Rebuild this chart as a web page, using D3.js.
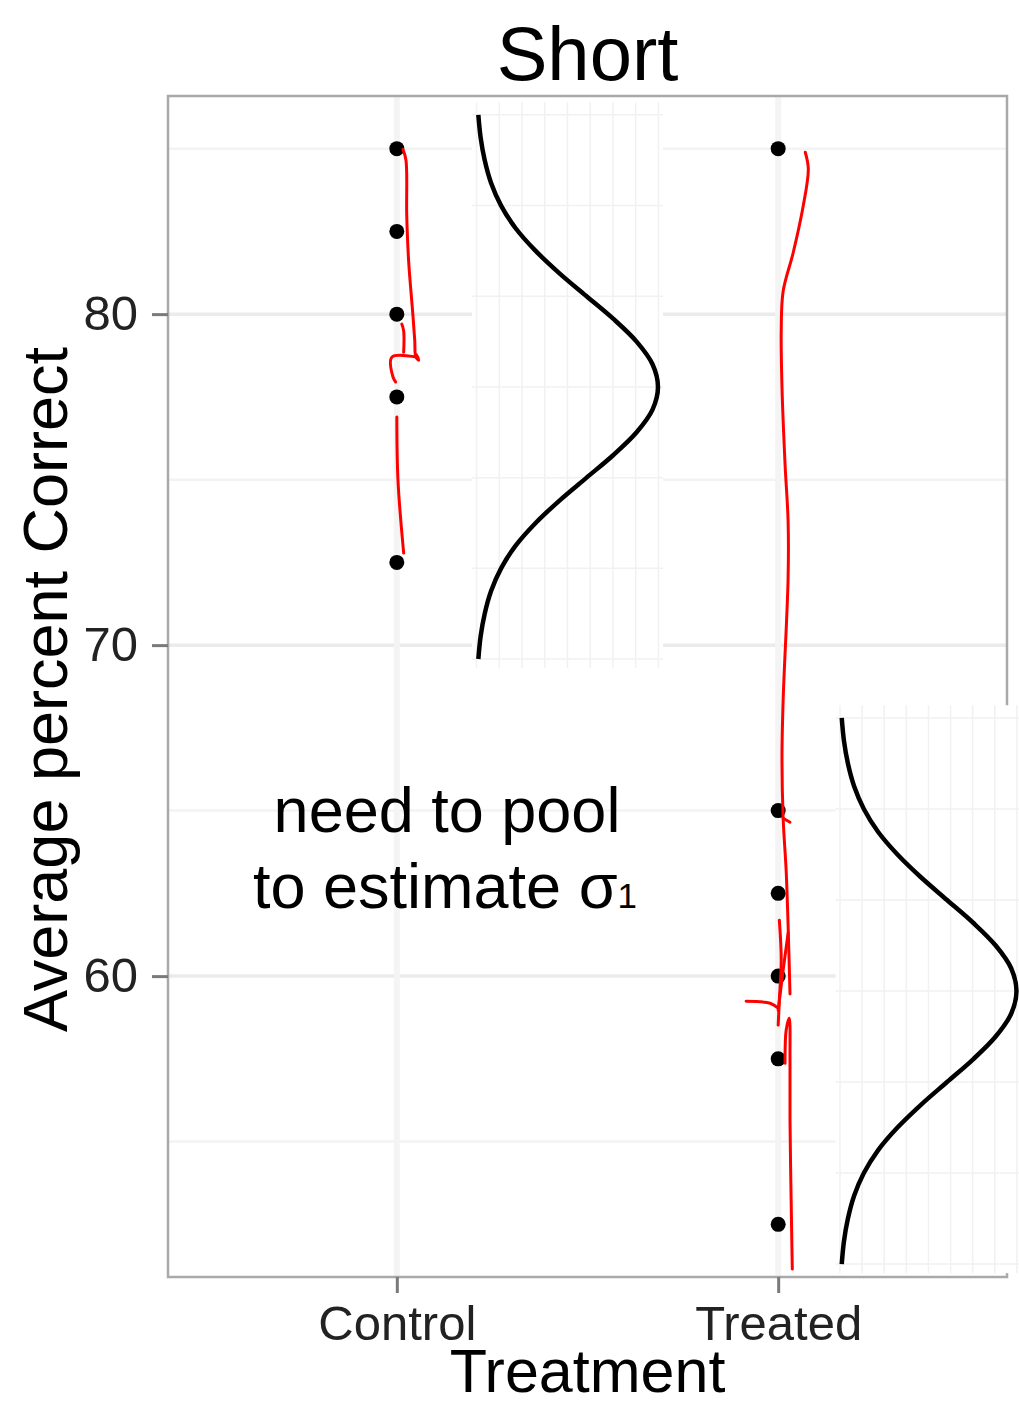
<!DOCTYPE html>
<html>
<head>
<meta charset="utf-8">
<script src="https://cdn.jsdelivr.net/npm/d3@7"></script>
<style>
    body { margin: 0; background: #fff; }
    svg text { font-family: "Liberation Sans", Arial, sans-serif; }
</style>
</head>
<body>
<div id="chart"></div>
<script>

// ---- data ----
var groups = ["Control", "Treated"];
var controlScores = [85, 82.5, 80, 77.5, 72.5];
var treatedScores = [85, 65, 62.5, 60, 57.5, 52.5];
var yTicks = [60, 70, 80];
var yMinorTicks = [55, 65, 75, 85];

// normal curve shape (z, density)
var curveZ = [-3, -2.75, -2.5, -2.25, -2, -1.75, -1.5, -1.25, -1, -0.75, -0.5, -0.25, 0,
              0.25, 0.5, 0.75, 1, 1.25, 1.5, 1.75, 2, 2.25, 2.5, 2.75, 3];
var curveDensity = [0.004, 0.009, 0.018, 0.032, 0.054, 0.086, 0.130, 0.183, 0.242, 0.301, 0.352, 0.387, 0.399,
                    0.387, 0.352, 0.301, 0.242, 0.183, 0.130, 0.086, 0.054, 0.032, 0.018, 0.009, 0.004];
var insetZTicks = [-3, -2, -1, 0, 1, 2, 3];
var insetDensityTicks = [0, 0.05, 0.1, 0.15, 0.2, 0.25, 0.3, 0.35, 0.4];

// red pen strokes, [group position, score]
var penStrokes = [
    [[1.016, 84.98], [1.024, 84.65], [1.026, 82.99], [1.031, 81.60], [1.042, 80.00], [1.047, 79.21], [1.050, 78.70], [1.058, 78.61], [1.052, 78.76]],
    [[1.013, 79.70], [1.018, 79.49], [1.018, 78.85]],
    [[1.055, 78.70], [0.987, 78.70], [0.990, 78.10], [0.997, 77.95]],
    [[1.000, 76.89], [1.003, 74.98], [1.018, 72.78]],
    [[2.071, 84.89], [2.079, 84.38], [2.065, 83.23], [2.039, 81.84], [2.013, 80.69], [2.008, 79.52], [2.010, 77.79], [2.018, 75.47],
     [2.026, 73.75], [2.026, 72.02], [2.013, 68.34], [2.010, 66.62], [2.013, 64.77], [2.021, 63.17], [2.026, 61.54], [2.031, 59.46]],
    [[2.013, 64.77], [2.031, 64.65]],
    [[2.003, 61.69], [2.008, 60.48], [2.003, 59.27], [2.000, 58.52]],
    [[2.026, 61.30], [2.013, 60.18], [2.000, 58.97]],
    [[1.916, 59.24], [1.979, 59.18], [2.000, 59.03]],
    [[2.018, 57.37], [2.021, 58.37], [2.029, 58.73], [2.031, 57.46], [2.031, 55.65], [2.034, 53.23], [2.037, 51.15]]
];

// where the two pasted curve plots sit (main chart units)
var insets = [
    {x0: 1.209, x1: 1.686, mean: 77.8, unit: 2.74},
    {x0: 2.162, x1: 2.626, mean: 59.55, unit: 2.75}
];


const width = 1019,
    height = 1407,
    panel = {left: 168, right: 1007, top: 96, bottom: 1277};

const svg = d3.select("#chart")
    .append("svg")
    .attr("width", width)
    .attr("height", height);

var xScale = d3.scaleLinear()
    .domain([0.4, 2.6])
    .range([panel.left, panel.right]);

var yScale = d3.scaleLinear()
    .domain([50.91, 86.59])
    .range([panel.bottom, panel.top]);

// panel + grid
svg.append("rect")
    .attr("x", panel.left).attr("y", panel.top)
    .attr("width", panel.right - panel.left)
    .attr("height", panel.bottom - panel.top)
    .style("fill", "#fff");

svg.selectAll("line.minor")
    .data(yMinorTicks)
    .enter()
    .append("line")
    .attr("class", "minor")
    .attr("x1", panel.left).attr("x2", panel.right)
    .attr("y1", function (d) { return yScale(d); })
    .attr("y2", function (d) { return yScale(d); })
    .style("stroke", "#f3f3f3")
    .style("stroke-width", 2.5);

svg.selectAll("line.major")
    .data(yTicks)
    .enter()
    .append("line")
    .attr("class", "major")
    .attr("x1", panel.left).attr("x2", panel.right)
    .attr("y1", function (d) { return yScale(d); })
    .attr("y2", function (d) { return yScale(d); })
    .style("stroke", "#ebebeb")
    .style("stroke-width", 3.5);

svg.selectAll("line.vgrid")
    .data([1, 2])
    .enter()
    .append("line")
    .attr("class", "vgrid")
    .attr("x1", function (d) { return xScale(d); })
    .attr("x2", function (d) { return xScale(d); })
    .attr("y1", panel.top).attr("y2", panel.bottom)
    .style("stroke", "#f4f4f4")
    .style("stroke-width", 6);

// border
svg.append("rect")
    .attr("x", panel.left).attr("y", panel.top)
    .attr("width", panel.right - panel.left)
    .attr("height", panel.bottom - panel.top)
    .style("fill", "none")
    .style("stroke", "#a9a9a9")
    .style("stroke-width", 2.5);

// axes
svg.append("g")
    .attr("class", "y-axis")
    .attr("transform", "translate(" + panel.left + ",0)")
    .call(d3.axisLeft(yScale).tickValues(yTicks).tickSize(16).tickPadding(14));

svg.append("g")
    .attr("class", "x-axis")
    .attr("transform", "translate(0," + panel.bottom + ")")
    .call(d3.axisBottom(xScale)
        .tickValues([1, 2])
        .tickSize(16)
        .tickPadding(12)
        .tickFormat(function (d) { return groups[d - 1]; }));

svg.selectAll(".y-axis .domain, .x-axis .domain").remove();
svg.selectAll(".y-axis .tick line, .x-axis .tick line")
    .style("stroke", "#7a7a7a")
    .style("stroke-width", 3);
svg.selectAll(".y-axis .tick text, .x-axis .tick text")
    .style("font-family", "'Liberation Sans', Arial, sans-serif")
    .style("font-size", "49px")
    .style("fill", "#222");

// points
var points = controlScores.map(function (d) { return {g: 1, v: d}; })
    .concat(treatedScores.map(function (d) { return {g: 2, v: d}; }));

svg.selectAll("circle.pt")
    .data(points)
    .enter()
    .append("circle")
    .attr("class", "pt")
    .attr("cx", function (d) { return xScale(d.g); })
    .attr("cy", function (d) { return yScale(d.v); })
    .attr("r", 7.5)
    .style("fill", "#000");

// the two pasted normal curve plots
var curvePoints = curveZ.map(function (z, i) { return {z: z, d: curveDensity[i]}; });

insets.forEach(function (ins) {
    var ix = d3.scaleLinear().domain([0, 0.4]).range([xScale(ins.x0), xScale(ins.x1)]);
    var iy = function (z) { return yScale(ins.mean + z * ins.unit); };

    var g = svg.append("g").attr("class", "inset");

    g.append("rect")
        .attr("x", ix(-0.01))
        .attr("y", iy(3.14))
        .attr("width", ix(0.41) - ix(-0.01))
        .attr("height", iy(-3.1) - iy(3.14))
        .style("fill", "#fff");

    g.selectAll("line.ih")
        .data(insetZTicks)
        .enter()
        .append("line")
        .attr("class", "ih")
        .attr("x1", ix(-0.01)).attr("x2", ix(0.41))
        .attr("y1", function (d) { return iy(d); })
        .attr("y2", function (d) { return iy(d); })
        .style("stroke", "#f1f1f1")
        .style("stroke-width", 1.5);

    g.selectAll("line.iv")
        .data(insetDensityTicks)
        .enter()
        .append("line")
        .attr("class", "iv")
        .attr("x1", function (d) { return ix(d); })
        .attr("x2", function (d) { return ix(d); })
        .attr("y1", iy(3.14)).attr("y2", iy(-3.1))
        .style("stroke", "#f1f1f1")
        .style("stroke-width", 1.5);

    g.append("path")
        .datum(curvePoints)
        .attr("d", d3.line()
            .x(function (d) { return ix(d.d); })
            .y(function (d) { return iy(d.z); })
            .curve(d3.curveCatmullRom))
        .style("fill", "none")
        .style("stroke", "#000")
        .style("stroke-width", 4.5);
});

// red pen marks
svg.selectAll("path.pen")
    .data(penStrokes)
    .enter()
    .append("path")
    .attr("class", "pen")
    .attr("d", d3.line()
        .x(function (d) { return xScale(d[0]); })
        .y(function (d) { return yScale(d[1]); })
        .curve(d3.curveCatmullRom))
    .style("fill", "none")
    .style("stroke", "#ff0000")
    .style("stroke-width", 3)
    .style("stroke-linecap", "round")
    .style("stroke-linejoin", "round");

// titles
svg.append("text")
    .attr("x", (panel.left + panel.right) / 2)
    .attr("y", 80)
    .attr("text-anchor", "middle")
    .style("font-size", "76px")
    .text("Short");

svg.append("text")
    .attr("x", (panel.left + panel.right) / 2)
    .attr("y", 1392)
    .attr("text-anchor", "middle")
    .style("font-size", "61px")
    .text("Treatment");

svg.append("text")
    .attr("transform", "translate(67," + ((panel.top + panel.bottom) / 2 + 3) + ") rotate(-90)")
    .attr("text-anchor", "middle")
    .style("font-size", "63px")
    .text("Average percent Correct");

// annotation
svg.append("text")
    .attr("x", 447)
    .attr("y", 832)
    .attr("text-anchor", "middle")
    .style("font-size", "63px")
    .text("need to pool");

var note2 = svg.append("text")
    .attr("x", 445)
    .attr("y", 908)
    .attr("text-anchor", "middle")
    .style("font-size", "63px");
note2.append("tspan").text("to estimate σ");
note2.append("tspan").style("font-size", "35px").text("1");

</script>
</body>
</html>
